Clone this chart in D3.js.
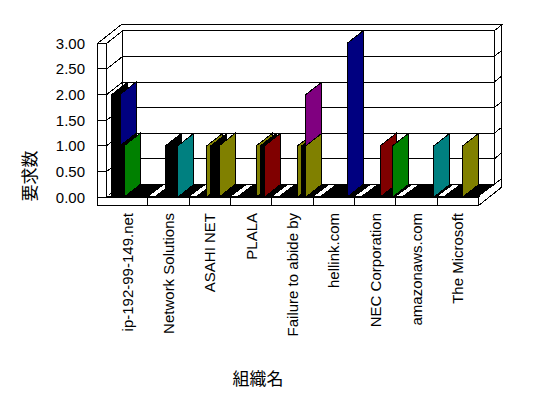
<!DOCTYPE html>
<html>
<head>
<meta charset="utf-8">
<script src="https://cdn.jsdelivr.net/npm/d3@7.9.0/dist/d3.min.js"></script>
<style>
  html, body { margin: 0; padding: 0; background: #fff; }
  svg { display: block; }
  text { font-family: "Liberation Sans", Arial, sans-serif; fill: #000; }
  .cjk { font-family: "Noto Sans CJK JP", sans-serif; }
</style>
</head>
<body>
<svg id="chart" width="548" height="398"></svg>
<script>
const organisations = ['ip-192-99-149.net', 'Network Solutions', 'ASAHI NET', 'PLALA',
  'Failure to abide by', 'hellink.com', 'NEC Corporation', 'amazonaws.com', 'The Microsoft'];
const yTicks = [0, 0.5, 1, 1.5, 2, 2.5, 3];

const palette = {
  black: '#000000', navy: '#000080', green: '#008000', teal: '#008080',
  maroon: '#800000', purple: '#800080', olive: '#808000'
};

// one entry per stacked piece: organisation index, slot in the cluster, count, colour
const segOrg   = [0, 0, 0, 0, 1, 1, 2, 2, 2, 3, 3, 3, 4, 4, 4, 4, 5, 6, 6, 7, 8];
const segSlot  = [1, 3, 3, 4, 4, 7, 4, 5, 7, 6, 7, 8, 6, 7, 8, 8, 8, 6, 9, 9, 6];
const segValue = [2, 1, 1, 1, 1, 1, 1, 1, 1, 1, 1, 1, 1, 1, 1, 1, 3, 1, 1, 1, 1];
const segColor = ['black', 'black', 'navy', 'green', 'black', 'teal', 'olive', 'black', 'olive',
  'olive', 'black', 'maroon', 'olive', 'black', 'olive', 'purple', 'navy', 'maroon', 'green',
  'teal', 'olive'];

const svg = d3.select('#chart');
const x = d3.scaleBand().domain(organisations).range([106.7, 478.3]);
const slot = d3.scaleLinear().domain([0, 10]).range([1, 1 + x.bandwidth()]);
const y = d3.scaleLinear().domain([0, 3]).range([197, 43.3]);

const depth = { dx: 16, dy: -12.5 };  // floor depth
const wall = { dx: 7.4, dy: -6 };     // wall thickness
const outerLeft = 97.7;
const floorH = 8.7;

const x0 = x.range()[0], x1 = x.range()[1];
const yTop = y(3), yBase = y(0);
const poly = pts => d3.line()(pts) + 'Z';

const g = svg.append('g').attr('shape-rendering', 'crispEdges');

// back wall
g.append('path')
  .attr('d', poly([[x0 + depth.dx, yTop + depth.dy], [x1 + depth.dx, yTop + depth.dy],
    [x1 + depth.dx, yBase + depth.dy], [x0 + depth.dx, yBase + depth.dy]]))
  .attr('fill', '#fff').attr('stroke', '#000');
g.selectAll('line.back-grid').data(yTicks).join('line')
  .attr('class', 'back-grid')
  .attr('x1', x0 + depth.dx).attr('x2', x1 + depth.dx)
  .attr('y1', d => y(d) + depth.dy).attr('y2', d => y(d) + depth.dy)
  .attr('stroke', '#000');

// left wall inner face
g.append('path')
  .attr('d', poly([[x0, yTop], [x0 + depth.dx, yTop + depth.dy],
    [x0 + depth.dx, yBase + depth.dy], [x0, yBase]]))
  .attr('fill', '#fff').attr('stroke', '#000');
g.selectAll('line.side-grid').data(yTicks).join('line')
  .attr('class', 'side-grid')
  .attr('x1', x0).attr('x2', x0 + depth.dx)
  .attr('y1', d => y(d)).attr('y2', d => y(d) + depth.dy)
  .attr('stroke', '#000');

// left wall front face
g.append('rect')
  .attr('x', outerLeft).attr('y', yTop)
  .attr('width', x0 - outerLeft).attr('height', yBase - yTop)
  .attr('fill', '#fff').attr('stroke', '#000');
g.selectAll('line.front-tick').data(yTicks).join('line')
  .attr('class', 'front-tick')
  .attr('x1', outerLeft).attr('x2', x0)
  .attr('y1', d => y(d)).attr('y2', d => y(d))
  .attr('stroke', '#000');

// top of walls
const fullDx = depth.dx + wall.dx, fullDy = depth.dy + wall.dy;
g.append('path')
  .attr('d', poly([[outerLeft, yTop], [outerLeft + fullDx, yTop + fullDy],
    [x1 + fullDx, yTop + fullDy], [x1 + depth.dx, yTop + depth.dy],
    [x0 + depth.dx, yTop + depth.dy], [x0, yTop]]))
  .attr('fill', '#fff').attr('stroke', '#000');

// right end of back wall
g.append('path')
  .attr('d', poly([[x1 + depth.dx, yTop + depth.dy], [x1 + fullDx, yTop + fullDy],
    [x1 + fullDx, yBase + fullDy], [x1 + depth.dx, yBase + depth.dy]]))
  .attr('fill', '#fff').attr('stroke', '#000');
g.selectAll('line.end-grid').data(yTicks).join('line')
  .attr('class', 'end-grid')
  .attr('x1', x1 + depth.dx).attr('x2', x1 + fullDx)
  .attr('y1', d => y(d) + depth.dy).attr('y2', d => y(d) + fullDy)
  .attr('stroke', '#000');

// floor
g.append('path')
  .attr('d', poly([[x0, yBase], [x1, yBase], [x1 + depth.dx, yBase + depth.dy],
    [x0 + depth.dx, yBase + depth.dy]]))
  .attr('fill', '#000').attr('stroke', '#000');
g.append('path')
  .attr('d', poly([[x1, yBase], [x1 + fullDx, yBase + fullDy],
    [x1 + fullDx, yBase + fullDy + floorH], [x1, yBase + floorH]]))
  .attr('fill', '#fff').attr('stroke', '#000');
g.append('line')
  .attr('x1', x1).attr('y1', yBase)
  .attr('x2', x1 + depth.dx).attr('y2', yBase + depth.dy)
  .attr('stroke', '#000');
g.append('rect')
  .attr('x', outerLeft).attr('y', yBase)
  .attr('width', x1 - outerLeft).attr('height', floorH)
  .attr('fill', '#fff').attr('stroke', '#000');
g.selectAll('line.divider').data(organisations.slice(1)).join('line')
  .attr('class', 'divider')
  .attr('x1', d => x(d)).attr('x2', d => x(d))
  .attr('y1', yBase).attr('y2', yBase + floorH)
  .attr('stroke', '#000');

// light strips on the floor at each category boundary
const stripStarts = organisations.map(d => x(d)).concat([x1]);
g.selectAll('path.strip').data(stripStarts).join('path')
  .attr('class', 'strip')
  .attr('d', s => poly([[s + 1, yBase - 1], [s + 7, yBase - 1],
    [s + 7 + depth.dx * 0.9, yBase - 1 + depth.dy * 0.85],
    [s + 1 + depth.dx * 0.9, yBase - 1 + depth.dy * 0.85]]))
  .attr('fill', '#fff');

// stacked pieces
const stackBase = new Map();
const pieces = segValue.map((v, i) => {
  const key = segOrg[i] + ':' + segSlot[i];
  const lo = stackBase.get(key) || 0;
  stackBase.set(key, lo + v);
  return { org: organisations[segOrg[i]], slot: segSlot[i], lo, hi: lo + v, color: segColor[i] };
});
pieces.sort((a, b) => (x(a.org) + slot(a.slot)) - (x(b.org) + slot(b.slot)) || a.lo - b.lo);

g.selectAll('path.bar').data(pieces).join('path')
  .attr('class', 'bar')
  .attr('d', d => {
    const bx = x(d.org) + slot(d.slot);
    return poly([[bx, y(d.lo)], [bx + depth.dx, y(d.lo) + depth.dy],
      [bx + depth.dx, y(d.hi) + depth.dy], [bx, y(d.hi)]]);
  })
  .attr('fill', d => palette[d.color])
  .attr('stroke', '#000');

// value labels
svg.selectAll('text.ytick').data(yTicks).join('text')
  .attr('class', 'ytick')
  .attr('x', 85).attr('y', d => y(d))
  .attr('text-anchor', 'end').attr('dominant-baseline', 'central')
  .attr('font-size', 15)
  .text(d3.format('.2f'));

svg.selectAll('text.xtick').data(organisations).join('text')
  .attr('class', 'xtick')
  .attr('transform', d => `translate(${x(d) + x.bandwidth() / 2},213) rotate(-90)`)
  .attr('text-anchor', 'end').attr('dominant-baseline', 'central')
  .attr('font-size', 15)
  .text(d => d);

svg.append('text')
  .attr('class', 'cjk')
  .attr('transform', 'translate(28,176) rotate(-90)')
  .attr('text-anchor', 'middle').attr('dominant-baseline', 'central')
  .attr('font-size', 17)
  .text('要求数');

svg.append('text')
  .attr('class', 'cjk')
  .attr('x', 258).attr('y', 377)
  .attr('text-anchor', 'middle').attr('dominant-baseline', 'central')
  .attr('font-size', 17)
  .text('組織名');
</script>
</body>
</html>
